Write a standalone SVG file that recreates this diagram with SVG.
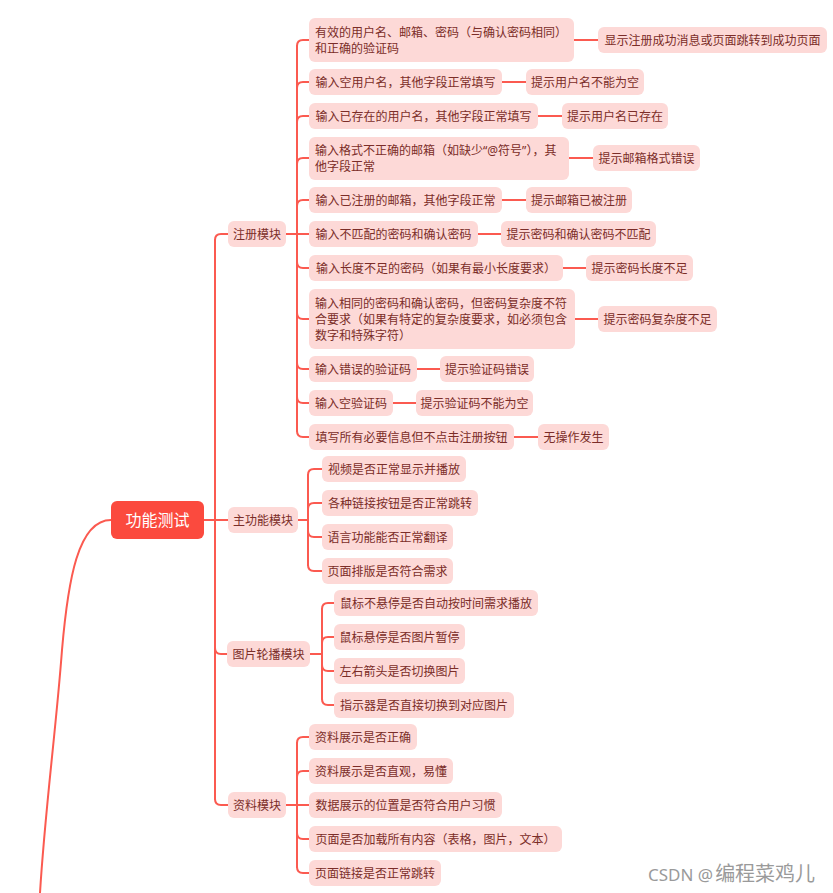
<svg xmlns="http://www.w3.org/2000/svg" width="833" height="893" viewBox="0 0 833 893">
<style>
.bg{fill:#ffffff}
.n{fill:#fdd9d7}
.root{fill:#fb4a3e}
.t{font-family:"Noto Sans","Noto Sans CJK SC",sans-serif;font-size:12px;fill:#7b2d28;dominant-baseline:central}
.c{text-anchor:middle}
.rt{font-family:"Noto Sans","Noto Sans CJK SC",sans-serif;font-size:16px;fill:#ffffff;text-anchor:middle;dominant-baseline:central}
.ln{fill:none;stroke:#fb5a50;stroke-width:2;stroke-linecap:round}
.wm{font-family:"Noto Sans","Noto Sans CJK SC",sans-serif;font-size:17px;fill:#9a9a9a}
</style>
<rect class="bg" x="0" y="0" width="833" height="893"/>
<g id="connectors">
  <path class="ln" d="M111,520 C78,520 68,580 62,650 C56,730 45,810 40,893"/>
  <path class="ln" d="M204,520 H228"/>
  <path class="ln" d="M215,240 V799"/>
  <path class="ln" d="M215,240 Q215,234 221,234 H228"/>
  <path class="ln" d="M215,648 Q215,654 221,654 H227"/>
  <path class="ln" d="M215,799 Q215,805 221,805 H228"/>
  <path class="ln" d="M286,234 H309"/>
  <path class="ln" d="M297,46 V431"/>
  <path class="ln" d="M297,46 Q297,40 303,40 H309"/>
  <path class="ln" d="M297,88 Q297,82 303,82 H309"/>
  <path class="ln" d="M297,122 Q297,116 303,116 H309"/>
  <path class="ln" d="M297,164 Q297,158 303,158 H309"/>
  <path class="ln" d="M297,206 Q297,200 303,200 H309"/>
  <path class="ln" d="M297,262 Q297,268 303,268 H309"/>
  <path class="ln" d="M297,313 Q297,319 303,319 H309"/>
  <path class="ln" d="M297,363 Q297,369 303,369 H309"/>
  <path class="ln" d="M297,397 Q297,403 303,403 H309"/>
  <path class="ln" d="M297,431 Q297,437 303,437 H309"/>
  <path class="ln" d="M574,40 H598"/>
  <path class="ln" d="M502,82 H526"/>
  <path class="ln" d="M538,116 H562"/>
  <path class="ln" d="M569,158 H593"/>
  <path class="ln" d="M502,200 H526"/>
  <path class="ln" d="M478,234 H501"/>
  <path class="ln" d="M563,268 H586"/>
  <path class="ln" d="M575,319 H598"/>
  <path class="ln" d="M417,369 H440"/>
  <path class="ln" d="M393,403 H416"/>
  <path class="ln" d="M514,437 H538"/>
  <path class="ln" d="M298,520 H308"/>
  <path class="ln" d="M308,475 V565"/>
  <path class="ln" d="M308,475 Q308,469 314,469 H322"/>
  <path class="ln" d="M308,509 Q308,503 314,503 H322"/>
  <path class="ln" d="M308,531 Q308,537 314,537 H322"/>
  <path class="ln" d="M308,565 Q308,571 314,571 H322"/>
  <path class="ln" d="M310,654 H322"/>
  <path class="ln" d="M322,609 V699"/>
  <path class="ln" d="M322,609 Q322,603 328,603 H334"/>
  <path class="ln" d="M322,643 Q322,637 328,637 H334"/>
  <path class="ln" d="M322,665 Q322,671 328,671 H334"/>
  <path class="ln" d="M322,699 Q322,705 328,705 H334"/>
  <path class="ln" d="M286,805 H309"/>
  <path class="ln" d="M297,743 V867"/>
  <path class="ln" d="M297,743 Q297,737 303,737 H309"/>
  <path class="ln" d="M297,777 Q297,771 303,771 H309"/>
  <path class="ln" d="M297,833 Q297,839 303,839 H309"/>
  <path class="ln" d="M297,867 Q297,873 303,873 H309"/>
</g>
<g id="root"><rect class="root" x="111" y="501" width="93" height="38" rx="6"/><text class="rt" x="157.5" y="520">功能测试</text></g>
<g id="m1"><rect class="n" x="228" y="221" width="58" height="26" rx="6"/><text class="t c" x="257" y="234">注册模块</text></g>
<g id="m2"><rect class="n" x="228" y="507" width="70" height="26" rx="6"/><text class="t c" x="263" y="520">主功能模块</text></g>
<g id="m3"><rect class="n" x="227" y="641" width="83" height="26" rx="6"/><text class="t c" x="268.5" y="654">图片轮播模块</text></g>
<g id="m4"><rect class="n" x="228" y="792" width="58" height="26" rx="6"/><text class="t c" x="257" y="805">资料模块</text></g>

<g id="r1"><rect class="n" x="309" y="18" width="265" height="44" rx="6"/><text class="t" x="315" y="32">有效的用户名、邮箱、密码（与确认密码相同）</text><text class="t" x="315" y="48">和正确的验证码</text></g>
<g id="r1a"><rect class="n" x="598" y="27" width="229" height="26" rx="6"/><text class="t c" x="712.5" y="40">显示注册成功消息或页面跳转到成功页面</text></g>
<g id="r2"><rect class="n" x="309" y="69" width="193" height="26" rx="6"/><text class="t c" x="405.5" y="82">输入空用户名，其他字段正常填写</text></g>
<g id="r2a"><rect class="n" x="526" y="69" width="118" height="26" rx="6"/><text class="t c" x="585" y="82">提示用户名不能为空</text></g>
<g id="r3"><rect class="n" x="309" y="103" width="229" height="26" rx="6"/><text class="t c" x="423.5" y="116">输入已存在的用户名，其他字段正常填写</text></g>
<g id="r3a"><rect class="n" x="562" y="103" width="106" height="26" rx="6"/><text class="t c" x="615" y="116">提示用户名已存在</text></g>
<g id="r4"><rect class="n" x="309" y="137" width="260" height="43" rx="6"/><text class="t" x="315" y="150">输入格式不正确的邮箱（如缺少“@符号”），其</text><text class="t" x="315" y="166">他字段正常</text></g>
<g id="r4a"><rect class="n" x="593" y="145" width="107" height="26" rx="6"/><text class="t c" x="646.5" y="158">提示邮箱格式错误</text></g>
<g id="r5"><rect class="n" x="309" y="187" width="193" height="26" rx="6"/><text class="t c" x="405.5" y="200">输入已注册的邮箱，其他字段正常</text></g>
<g id="r5a"><rect class="n" x="526" y="187" width="106" height="26" rx="6"/><text class="t c" x="579" y="200">提示邮箱已被注册</text></g>
<g id="r6"><rect class="n" x="309" y="221" width="169" height="26" rx="6"/><text class="t c" x="393.5" y="234">输入不匹配的密码和确认密码</text></g>
<g id="r6a"><rect class="n" x="501" y="221" width="155" height="26" rx="6"/><text class="t c" x="578.5" y="234">提示密码和确认密码不匹配</text></g>
<g id="r7"><rect class="n" x="309" y="255" width="254" height="26" rx="6"/><text class="t c" x="436" y="268">输入长度不足的密码（如果有最小长度要求）</text></g>
<g id="r7a"><rect class="n" x="586" y="255" width="107" height="26" rx="6"/><text class="t c" x="639.5" y="268">提示密码长度不足</text></g>
<g id="r8"><rect class="n" x="309" y="289" width="266" height="60" rx="6"/><text class="t" x="315" y="303">输入相同的密码和确认密码，但密码复杂度不符</text><text class="t" x="315" y="319">合要求（如果有特定的复杂度要求，如必须包含</text><text class="t" x="315" y="335">数字和特殊字符）</text></g>
<g id="r8a"><rect class="n" x="598" y="306" width="119" height="26" rx="6"/><text class="t c" x="657.5" y="319">提示密码复杂度不足</text></g>
<g id="r9"><rect class="n" x="309" y="356" width="108" height="26" rx="6"/><text class="t c" x="363" y="369">输入错误的验证码</text></g>
<g id="r9a"><rect class="n" x="440" y="356" width="94" height="26" rx="6"/><text class="t c" x="487" y="369">提示验证码错误</text></g>
<g id="r10"><rect class="n" x="309" y="390" width="84" height="26" rx="6"/><text class="t c" x="351" y="403">输入空验证码</text></g>
<g id="r10a"><rect class="n" x="416" y="390" width="117" height="26" rx="6"/><text class="t c" x="474.5" y="403">提示验证码不能为空</text></g>
<g id="r11"><rect class="n" x="309" y="424" width="205" height="26" rx="6"/><text class="t c" x="411.5" y="437">填写所有必要信息但不点击注册按钮</text></g>
<g id="r11a"><rect class="n" x="538" y="424" width="71" height="26" rx="6"/><text class="t c" x="573.5" y="437">无操作发生</text></g>

<g id="a1"><rect class="n" x="322" y="456" width="144" height="26" rx="6"/><text class="t c" x="394" y="469">视频是否正常显示并播放</text></g>
<g id="a2"><rect class="n" x="322" y="490" width="156" height="26" rx="6"/><text class="t c" x="400" y="503">各种链接按钮是否正常跳转</text></g>
<g id="a3"><rect class="n" x="322" y="524" width="131" height="26" rx="6"/><text class="t c" x="387.5" y="537">语言功能能否正常翻译</text></g>
<g id="a4"><rect class="n" x="322" y="558" width="131" height="26" rx="6"/><text class="t c" x="387.5" y="571">页面排版是否符合需求</text></g>

<g id="c1"><rect class="n" x="334" y="590" width="204" height="26" rx="6"/><text class="t c" x="436" y="603">鼠标不悬停是否自动按时间需求播放</text></g>
<g id="c2"><rect class="n" x="334" y="624" width="131" height="26" rx="6"/><text class="t c" x="399.5" y="637">鼠标悬停是否图片暂停</text></g>
<g id="c3"><rect class="n" x="334" y="658" width="131" height="26" rx="6"/><text class="t c" x="399.5" y="671">左右箭头是否切换图片</text></g>
<g id="c4"><rect class="n" x="334" y="692" width="180" height="26" rx="6"/><text class="t c" x="424" y="705">指示器是否直接切换到对应图片</text></g>

<g id="d1"><rect class="n" x="309" y="724" width="108" height="26" rx="6"/><text class="t c" x="363" y="737">资料展示是否正确</text></g>
<g id="d2"><rect class="n" x="309" y="758" width="144" height="26" rx="6"/><text class="t c" x="381" y="771">资料展示是否直观，易懂</text></g>
<g id="d3"><rect class="n" x="309" y="792" width="193" height="26" rx="6"/><text class="t c" x="405.5" y="805">数据展示的位置是否符合用户习惯</text></g>
<g id="d4"><rect class="n" x="309" y="826" width="253" height="26" rx="6"/><text class="t c" x="435.5" y="839">页面是否加载所有内容（表格，图片，文本）</text></g>
<g id="d5"><rect class="n" x="309" y="860" width="132" height="26" rx="6"/><text class="t c" x="375" y="873">页面链接是否正常跳转</text></g>

<text class="wm" x="648" y="881">CSDN @<tspan dx="2" style="font-size:20px">编程菜鸡儿</tspan></text>
</svg>
